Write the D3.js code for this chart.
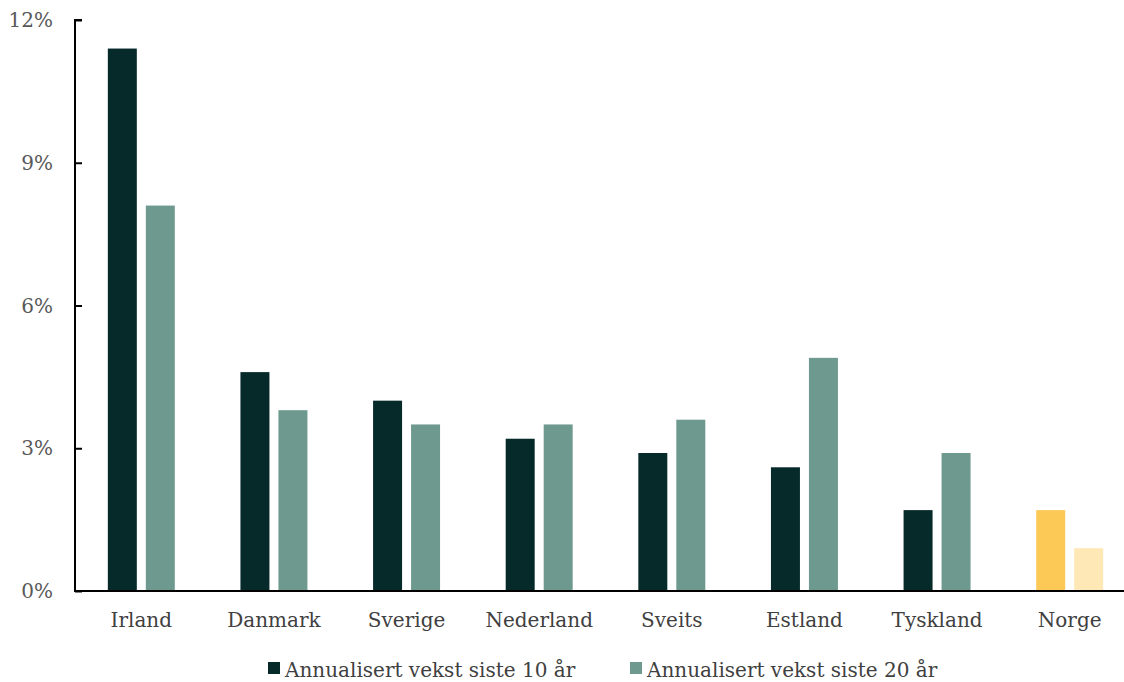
<!DOCTYPE html>
<html><head><meta charset="utf-8">
<script src="https://cdn.jsdelivr.net/npm/d3@7"></script>
<style>body{margin:0;background:#fff}svg{display:block}text{font-family:"DejaVu Serif",Georgia,serif}</style>
</head><body><svg id="c" width="1124" height="682"></svg>
<script>
const categories = ["Irland","Danmark","Sverige","Nederland","Sveits","Estland","Tyskland","Norge"];
const seriesNames = ["Annualisert vekst siste 10 år","Annualisert vekst siste 20 år"];
const growth10 = [11.4,4.6,4.0,3.2,2.9,2.6,1.7,1.7];
const growth20 = [8.1,3.8,3.5,3.5,3.6,4.9,2.9,0.9];
const yTicks = [0,3,6,9,12];

const svg = d3.select("#c");
const pLeft=75, pRight=1136, pTop=20, pBottom=591;
const x0 = d3.scaleBand().domain(categories).range([pLeft,pRight]).paddingInner(0.495).paddingOuter(0.2475);
const x1 = d3.scaleBand().domain([0,1]).range([0,x0.bandwidth()]).paddingInner(0.237);
const y = d3.scaleLinear().domain([0,12]).range([pBottom,pTop]);
const colors = ["#06292a","#6e998e"];
const normColors = ["#fdc956","#fee8b6"];

const data = categories.map((c,i)=>({c,vals:[growth10[i],growth20[i]]}));
const g = svg.append("g");
data.forEach(d=>{
  d.vals.forEach((v,k)=>{
    g.append("rect")
     .attr("x", x0(d.c)+x1(k)).attr("width", x1.bandwidth())
     .attr("y", y(v)).attr("height", y(0)-y(v))
     .attr("fill", d.c==="Norge"?normColors[k]:colors[k]);
  });
});

// y axis
const ya = svg.append("g").attr("transform",`translate(${pLeft},0)`)
  .call(d3.axisRight(y).tickValues(yTicks).tickSize(7).tickFormat(""));
ya.select(".domain").attr("stroke","#000").attr("stroke-width",2).attr("d",`M7,${pTop}H0V${pBottom}`);
ya.selectAll(".tick line").attr("stroke","#000").attr("stroke-width",2);
svg.append("g").selectAll("text").data(yTicks).join("text")
  .attr("x",53).attr("y",d=>y(d)+7).attr("text-anchor","end")
  .attr("fill","#595959").attr("font-size",20).text(d=>d+"%");

// x axis
const xa = svg.append("g").attr("transform",`translate(0,${pBottom})`)
  .call(d3.axisBottom(x0).tickSize(0).tickPadding(0));
xa.select(".domain").attr("stroke","#000").attr("stroke-width",2).attr("d",`M${pLeft-1},0H${pRight+1}`);
xa.selectAll(".tick text").attr("font-size",20).attr("fill","#404040").attr("font-family","DejaVu Serif").attr("dy",0).attr("y",36);

// legend
const leg = svg.append("g");
const lx=[268,630];
seriesNames.forEach((s,k)=>{
  leg.append("rect").attr("x",lx[k]).attr("y",662).attr("width",12).attr("height",12).attr("fill",colors[k]);
  leg.append("text").attr("x",lx[k]+17).attr("y",677).attr("font-size",20).attr("fill","#404040").text(s);
});
</script></body></html>
